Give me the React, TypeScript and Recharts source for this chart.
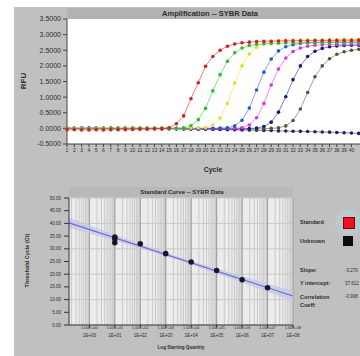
import {
  LineChart,
  Line,
  XAxis,
  YAxis,
  ZAxis,
  CartesianGrid,
  ComposedChart,
  Scatter,
  Area,
} from "recharts";

// amplification plot, one value per cycle (RFU)
const cycles = [
  1, 2, 3, 4, 5, 6, 7, 8, 9, 10, 11, 12, 13, 14, 15, 16, 17, 18, 19, 20, 21,
  22, 23, 24, 25, 26, 27, 28, 29, 30, 31, 32, 33, 34, 35, 36, 37, 38, 39, 40, 41,
];
const cycleTicks = [
  1, 2, 3, 4, 5, 6, 7, 8, 9, 10, 11, 12, 13, 14, 15, 16, 17, 18, 19, 20, 21,
  22, 23, 24, 25, 26, 27, 28, 29, 30, 31, 32, 33, 34, 35, 36, 37, 38, 39, 40,
];
const redRfu = [
  -40, -45, -50, -50, -45, -50, -45, -40, -40, -35, -30, -25, -20, -10, 20, 150, 400, 950, 1460, 1990,
  2300, 2500, 2630, 2700, 2740, 2760, 2775, 2785, 2790, 2795, 2800, 2800, 2805, 2805, 2810, 2810,
  2815, 2815, 2820, 2820, 2825,
];
const greenRfu = [
  -10, -10, -15, -15, -10, -10, -5, -5, -5, 0, 0, 0, 0, 5, 5, 5, 15, 90, 280, 640, 1200, 1720, 2150,
  2420, 2570, 2650, 2690, 2710, 2720, 2725, 2730, 2735, 2735, 2740, 2740, 2745, 2745, 2750, 2750,
  2750, 2755,
];
const yellowRfu = [
  0, 0, -5, -5, 0, 0, 0, 5, 5, 5, 0, 0, 0, 5, 5, 5, 10, 10, 10, 20, 110, 330, 800, 1450, 2000, 2380,
  2600, 2710, 2770, 2800, 2815, 2820, 2825, 2825, 2830, 2830, 2835, 2835, 2840, 2840, 2840,
];
const blueRfu = [
  0, 0, 0, 5, 5, 0, 0, 0, -5, -5, 0, 0, 0, 0, 5, 5, 0, 0, 0, 5, 5, 10, 15, 80, 260, 650, 1230, 1800,
  2220, 2480, 2610, 2680, 2720, 2740, 2750, 2755, 2760, 2760, 2765, 2765, 2770,
];
const magentaRfu = [
  5, 5, 0, 0, 0, 0, -5, -5, 0, 0, 0, 0, 0, 0, -5, -5, -10, -10, -10, -10, -5, -5, 0, 5, 20, 110, 340,
  800, 1390, 1900, 2250, 2460, 2570, 2630, 2660, 2675, 2685, 2690, 2695, 2700, 2700,
];
const navyRfu = [
  0, 0, 0, 0, 0, 0, 0, 0, 0, 0, -5, -5, -5, -10, -10, -10, -15, -15, -20, -20, -20, -25, -25, -20,
  -15, -5, 10, 60, 200, 520, 1010, 1560, 2000, 2300, 2470, 2560, 2610, 2635, 2650, 2660, 2665,
];
const oliveRfu = [
  0, 0, 0, 0, 0, 0, 0, 0, 0, 0, 0, 0, 0, 0, 0, -5, -5, -5, -10, -10, -10, -15, -15, -15, -20, -20,
  -15, -10, 0, 15, 80, 250, 620, 1150, 1650, 2000, 2230, 2370, 2450, 2500, 2530,
];
const ntcRfu = [
  0, 0, 0, 0, 0, 0, 0, 0, 0, 0, -5, -5, -5, -10, -10, -15, -15, -20, -20, -25, -30, -35, -40, -45,
  -50, -55, -60, -65, -70, -80, -85, -90, -95, -100, -110, -115, -120, -130, -140, -150, -160,
];
const rfuTicks = [-500, 0, 500, 1000, 1500, 2000, 2500, 3000, 3500];

// standard curve
const stdLog = [1, 1, 1, 2, 3, 4, 5, 6, 7];
const stdCt = [34.6, 33.9, 32.4, 32.0, 28.1, 24.8, 21.5, 17.8, 14.7];
const fitLog = [-0.8, 8];
const fitCt = [40.2, 11.4];
const bandLog = [-0.8, 0.5, 2, 3.5, 5, 6.5, 8];
const bandLow = [38.2, 34.6, 30.2, 25.5, 20.3, 14.9, 9.4];
const bandHigh = [42.2, 37.4, 32.0, 26.9, 22.2, 17.7, 13.4];
const decades = [0, 1, 2, 3, 4, 5, 6, 7, 8];
const ctTicks = [0, 5, 10, 15, 20, 25, 30, 35, 40, 45, 50];

const series = [
  { key: "ntc", data: ntcRfu, color: "#22226a" },
  { key: "olive", data: oliveRfu, color: "#4a5a36" },
  { key: "navy", data: navyRfu, color: "#16168c" },
  { key: "magenta", data: magentaRfu, color: "#e030e0" },
  { key: "blue", data: blueRfu, color: "#2058dc" },
  { key: "yellow", data: yellowRfu, color: "#e4e020" },
  { key: "green", data: greenRfu, color: "#26c226" },
  { key: "red", data: redRfu, color: "#e8141e" },
];

const ampData = cycles.map((c, i) => {
  const row: Record<string, number> = { cycle: c };
  series.forEach((s) => (row[s.key] = s.data[i]));
  return row;
});
const stdData = stdLog.map((l, i) => ({ log: l, ct: stdCt[i] }));
const fitData = fitLog.map((l, i) => ({ log: l, ct: fitCt[i] }));
const bandData = bandLog.map((l, i) => ({ log: l, band: [bandLow[i], bandHigh[i]] }));

// log grid: decades plus 2..9 inside each decade
const minorLogs: number[] = [];
[-1, ...decades].forEach((d) => {
  [1, 2, 3, 4, 5, 6, 7, 8, 9].forEach((k) => {
    const v = d + Math.log10(k);
    if (v >= -0.8 && v <= 8) minorLogs.push(v);
  });
});

const txt = "#2c2c2c";

function QtyTick(props: any) {
  const { x, y, payload } = props;
  const n = payload.value;
  return (
    <g transform={`translate(${x},${y})`}>
      <text y={1.5} textAnchor="middle" fontSize={3.8} fill={txt}>{`1.00E+0${n}`}</text>
      <text y={10} textAnchor="middle" fontSize={4.5} fill={txt}>{`1E+0${n}`}</text>
    </g>
  );
}

const abs = (left: number, top: number, extra: React.CSSProperties = {}): React.CSSProperties => ({
  position: "absolute",
  left,
  top,
  whiteSpace: "nowrap",
  ...extra,
});

export default function App() {
  return (
    <div
      style={{
        position: "absolute",
        left: 14,
        top: 7,
        width: 346,
        height: 349,
        background: "#c0c0c0",
        overflow: "hidden",
        fontFamily: "'Liberation Sans', Arial, sans-serif",
        color: txt,
      }}
    >
      {/* title bars */}
      <div style={abs(53, 1, { width: 300, height: 11, background: "#b3b3b3" })} />
      <div style={abs(55, 180, { width: 224, height: 10, background: "#b8b8b8" })} />

      <div style={abs(126, 2, { width: 140, textAlign: "center", fontSize: 7.5, fontWeight: 700, lineHeight: "9px" })}>
        Amplification -- SYBR Data
      </div>

      <div style={abs(0, 0)}>
        <LineChart width={354} height={160} data={ampData} margin={{ top: 12, right: 2, bottom: 9, left: 0 }}>
          <CartesianGrid fill="#ffffff" stroke="none" />
          <XAxis
            dataKey="cycle"
            type="number"
            domain={[1, 42]}
            ticks={cycleTicks}
            interval={0}
            height={14}
            tickSize={3}
            tickMargin={1}
            stroke="#444"
            tick={{ fontSize: 5, fill: txt }}
          />
          <YAxis
            domain={[-500, 3500]}
            ticks={rfuTicks}
            width={53}
            tickSize={4}
            tickMargin={2}
            stroke="#444"
            tick={{ fontSize: 7, fill: txt }}
            tickFormatter={(v: number) => (v / 1000).toFixed(4)}
          />
          {series.map((s) => (
            <Line
              key={s.key}
              dataKey={s.key}
              type="linear"
              stroke={s.color}
              strokeOpacity={0.55}
              strokeWidth={1}
              dot={{ r: 1.8, fill: s.color, stroke: "none" }}
              isAnimationActive={false}
            />
          ))}
        </LineChart>
      </div>

      <div style={abs(2, 69, { fontSize: 8, fontWeight: 700, transform: "rotate(-90deg)", lineHeight: "10px" })}>
        RFU
      </div>
      <div style={abs(179, 159, { width: 40, textAlign: "center", fontSize: 7, fontWeight: 700 })}>
        Cycle
      </div>

      <div style={abs(98, 182, { width: 140, textAlign: "center", fontSize: 6, fontWeight: 700, lineHeight: "7px" })}>
        Standard Curve -- SYBR Data
      </div>

      <div style={abs(0, 170)}>
        <ComposedChart width={300} height={176} margin={{ top: 21, right: 21, bottom: 4, left: 0 }}>
          <CartesianGrid fill="#ececec" stroke="#c9c9c9" verticalValues={minorLogs} />
          <CartesianGrid fill="none" stroke="#9c9c9c" horizontal={false} verticalValues={decades} />
          <XAxis
            dataKey="log"
            type="number"
            domain={[-0.8, 8]}
            ticks={decades}
            interval={0}
            allowDataOverflow
            height={24}
            tickSize={2}
            tickMargin={0}
            stroke="#333"
            tick={<QtyTick />}
          />
          <YAxis
            type="number"
            domain={[0, 50]}
            ticks={ctTicks}
            width={55}
            tickSize={5}
            tickMargin={3}
            stroke="#333"
            tick={{ fontSize: 4.5, fill: txt }}
            tickFormatter={(v: number) => v.toFixed(2)}
          />
          <ZAxis range={[24, 24]} />
          <Area
            data={bandData}
            dataKey="band"
            type="linear"
            fill="#c4c4ee"
            fillOpacity={0.75}
            stroke="none"
            isAnimationActive={false}
          />
          <Line data={fitData} dataKey="ct" type="linear" stroke="#6a6abc" strokeWidth={1.2} dot={false} isAnimationActive={false} />
          <Scatter data={stdData} dataKey="ct" fill="#16162a" shape="circle" isAnimationActive={false} />
        </ComposedChart>
      </div>

      <div style={abs(-13, 250, { fontSize: 5.5, fontWeight: 700, transform: "rotate(-90deg)", lineHeight: "7px" })}>
        Threshold Cycle (Ct)
      </div>
      <div style={abs(127, 338, { width: 80, textAlign: "center", fontSize: 4.6, fontWeight: 700 })}>
        Log Starting Quantity
      </div>

      {/* legend */}
      <div
        style={abs(320, 201, {
          width: 28,
          height: 28,
          borderRadius: "50%",
          background:
            "radial-gradient(circle, rgba(255,170,215,0.55) 0%, rgba(160,225,225,0.45) 55%, rgba(192,192,192,0) 72%)",
        })}
      />
      <div style={abs(286, 212, { fontSize: 5.5, fontWeight: 700, lineHeight: "7px" })}>Standard</div>
      <div style={abs(329, 210, { width: 10, height: 10, background: "#e8141e", border: "1px solid #8a0000" })} />
      <div style={abs(286, 231, { fontSize: 5.5, fontWeight: 700, lineHeight: "7px" })}>Unknown</div>
      <div style={abs(329, 229, { width: 10, height: 10, background: "#0c0c0c" })} />

      <div style={abs(286, 260, { fontSize: 5.5, fontWeight: 700, lineHeight: "7px" })}>Slope:</div>
      <div style={abs(331, 261, { fontSize: 4.5, lineHeight: "6px" })}>-3.270</div>
      <div style={abs(286, 273, { fontSize: 5.5, fontWeight: 700, lineHeight: "7px" })}>Y intercept:</div>
      <div style={abs(331, 274, { fontSize: 4.5, lineHeight: "6px" })}>37.612</div>
      <div style={abs(286, 286, { fontSize: 5.5, fontWeight: 700, lineHeight: "8px" })}>
        Correlation
        <br />
        Coeff:
      </div>
      <div style={abs(331, 287, { fontSize: 4.5, lineHeight: "6px" })}>-0.998</div>
    </div>
  );
}
